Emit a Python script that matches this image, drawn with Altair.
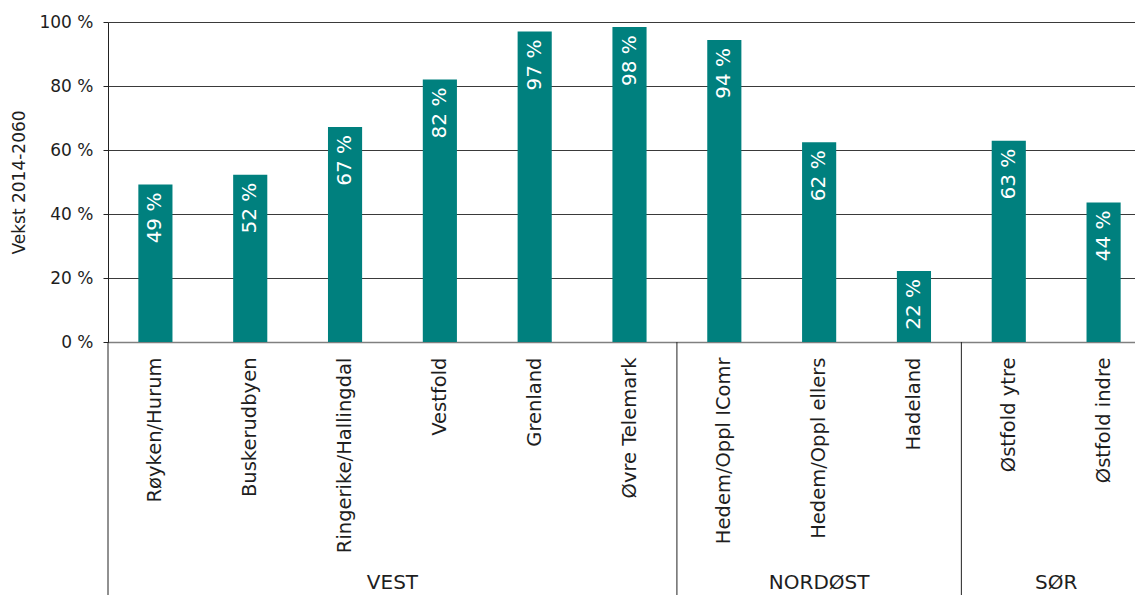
import altair as alt
import pandas as pd

regions = ["Røyken/Hurum", "Buskerudbyen", "Ringerike/Hallingdal", "Vestfold",
           "Grenland", "Øvre Telemark", "Hedem/Oppl IComr", "Hedem/Oppl ellers",
           "Hadeland", "Østfold ytre", "Østfold indre"]
growth = [49.2, 52.3, 67.2, 82.0, 97.0, 98.4, 94.4, 62.4, 22.2, 62.9, 43.6]
groups = ["VEST"] * 6 + ["NORDØST"] * 3 + ["SØR"] * 2
y_ticks = [0, 20, 40, 60, 80, 100]

FONT = "DejaVu Sans"
TEXT = "#1e1e1e"
TEAL = "#00807e"

df = pd.DataFrame({"region": regions, "growth": growth, "group": groups})
df["label"] = df["growth"].round(0).astype(int).astype(str) + " %"

# group boundaries and centre anchors
group_order = list(dict.fromkeys(groups))
starts = []
anchors_edge = []
anchors_mid = []
for g in group_order:
    members = [r for r, gg in zip(regions, groups) if gg == g]
    starts.append({"region": members[0]})
    n = len(members)
    if n % 2 == 0:
        anchors_edge.append({"region": members[n // 2], "group": g})
    else:
        anchors_mid.append({"region": members[n // 2], "group": g})
starts_df = pd.DataFrame(starts)
edge_df = pd.DataFrame(anchors_edge)
mid_df = pd.DataFrame(anchors_mid)

W, H = 1043, 320
xscale = alt.Scale(type="band", domain=regions, paddingInner=0, paddingOuter=0)

x_axis = alt.Axis(
    title=None, labelAngle=270, labelAlign="right", labelBaseline="middle",
    labelFont=FONT, labelFontSize=19.5, labelColor=TEXT, labelPadding=15,
    ticks=False, tickSize=0, domainColor="#808080", domainWidth=1.5,
    labelLimit=300, labels=True,
)
y_axis = alt.Axis(
    values=y_ticks, labelExpr="datum.value + ' %'", title="Vekst 2014-2060",
    labelFont=FONT, labelFontSize=17, labelColor=TEXT, labelPadding=10,
    tickSize=5, tickColor="#222222", domainColor="#222222",
    grid=True, gridColor="#3a3a3a", gridWidth=1,
    titleFont=FONT, titleFontSize=17, titleFontWeight="normal", titleColor=TEXT,
    titleX=-80, titleY=160, titleBaseline="bottom",
)

xenc = alt.X("region:N", scale=xscale, axis=x_axis)

bars = alt.Chart(df).mark_bar(color=TEAL, width=alt.RelativeBandSize(0.36)).encode(
    x=xenc,
    y=alt.Y("growth:Q", scale=alt.Scale(domain=[0, 100]), axis=y_axis),
)

labels = alt.Chart(df).mark_text(
    angle=270, align="right", baseline="middle", dx=-8,
    color="white", font=FONT, fontSize=20,
).encode(
    x=xenc,
    y=alt.Y("growth:Q"),
    text="label:N",
)

seps = alt.Chart(starts_df).mark_rule(color="#222222", strokeWidth=1).encode(
    x=alt.X("region:N", scale=xscale, axis=x_axis, bandPosition=0),
    y=alt.value(H),
    y2=alt.value(H + 300),
)

glab_edge = alt.Chart(edge_df).mark_text(
    font=FONT, fontSize=20, color=TEXT, baseline="alphabetic", align="center",
).encode(
    x=alt.X("region:N", scale=xscale, axis=x_axis, bandPosition=0),
    y=alt.value(567),
    text="group:N",
)

glab_mid = alt.Chart(mid_df).mark_text(
    font=FONT, fontSize=20, color=TEXT, baseline="alphabetic", align="center",
).encode(
    x=alt.X("region:N", scale=xscale, axis=x_axis, bandPosition=0.5),
    y=alt.value(567),
    text="group:N",
)

chart = alt.layer(bars, labels, seps, glab_edge, glab_mid).properties(
    width=W, height=H,
    padding={"left": 100, "top": 14, "right": -16, "bottom": 256},
    autosize=alt.AutoSizeParams(type="none"),
    background="white",
).configure_view(stroke=None)

chart.save("out.html", embed_options={"renderer": "svg", "actions": False})
